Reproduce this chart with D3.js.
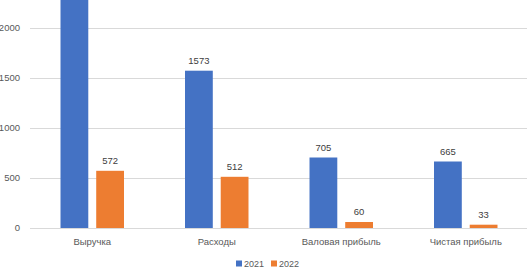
<!DOCTYPE html>
<html><head><meta charset="utf-8">
<script src="https://cdn.jsdelivr.net/npm/d3@7"></script>
<style>body{margin:0;background:#fff}svg{display:block}</style>
</head><body>
<svg id="c" width="527" height="268"></svg>
<script>
const categories = ["Выручка", "Расходы", "Валовая прибыль", "Чистая прибыль"];
const seriesNames = ["2021", "2022"];
const values2021 = [2400, 1573, 705, 665];
const values2022 = [572, 512, 60, 33];
const yTicks = [0, 500, 1000, 1500, 2000];
const colors = ["#4472C4", "#ED7D31"];

const svg = d3.select("#c");
const W = 527, H = 268;
const m = {left: 30, right: -1, top: 0, bottom: 40};
const x0 = d3.scaleBand().domain(categories).range([m.left, W - m.right]).paddingInner(0.49).paddingOuter(0.245);
const x1 = d3.scaleBand().domain(seriesNames).range([0, x0.bandwidth()]).paddingInner(0.222);
const y = d3.scaleLinear().domain([0, 2000]).range([228, 28]);
const font = "'Liberation Sans', Arial, sans-serif";

// gridlines
svg.append("g").selectAll("line").data(yTicks).join("line")
  .attr("x1", m.left).attr("x2", W).attr("y1", d => y(d) + 0.5).attr("y2", d => y(d) + 0.5)
  .attr("stroke", "#d9d9d9").attr("stroke-width", 1);

// y labels
svg.append("g").selectAll("text").data(yTicks).join("text")
  .attr("x", 20).attr("y", d => y(d)).attr("dy", "0.35em").attr("text-anchor", "end")
  .attr("font-family", font).attr("font-size", 9.5).attr("fill", "#595959").text(d => d);

const data = categories.map((c, i) => ({c, vals: [values2021[i], values2022[i]]}));
const g = svg.append("g").selectAll("g").data(data).join("g")
  .attr("transform", d => `translate(${x0(d.c)},0)`);
g.selectAll("rect").data(d => d.vals.map((v, j) => ({v, s: seriesNames[j], j}))).join("rect")
  .attr("x", d => x1(d.s)).attr("width", x1.bandwidth())
  .attr("y", d => y(d.v)).attr("height", d => y(0) - y(d.v))
  .attr("fill", d => colors[d.j]);
// value labels (those falling above the visible area are not shown, as in the cropped reference)
g.selectAll("text").data(d => d.vals.map((v, j) => ({v, s: seriesNames[j], j})).filter(e => y(e.v) - 16 > 0)).join("text")
  .attr("x", d => x1(d.s) + x1.bandwidth() / 2).attr("y", d => y(d.v) - 7)
  .attr("text-anchor", "middle").attr("font-family", font).attr("font-size", 9.5).attr("fill", "#404040")
  .text(d => d.v);

// category labels
svg.append("g").selectAll("text").data(categories).join("text")
  .attr("x", d => x0(d) + x0.bandwidth() / 2).attr("y", 245).attr("text-anchor", "middle")
  .attr("font-family", font).attr("font-size", 9.5).attr("fill", "#595959").text(d => d);

// legend
const legendX = [236, 271];
const lg = svg.append("g").selectAll("g").data(seriesNames).join("g")
  .attr("transform", (d, i) => `translate(${legendX[i]},263.5)`);
lg.append("rect").attr("x", 0).attr("y", -3).attr("width", 6).attr("height", 6).attr("fill", (d, i) => colors[i]);
lg.append("text").attr("x", 8).attr("y", 0).attr("dy", "0.35em").attr("font-family", font)
  .attr("font-size", 9).attr("fill", "#595959").text(d => d);
</script>
</body></html>
